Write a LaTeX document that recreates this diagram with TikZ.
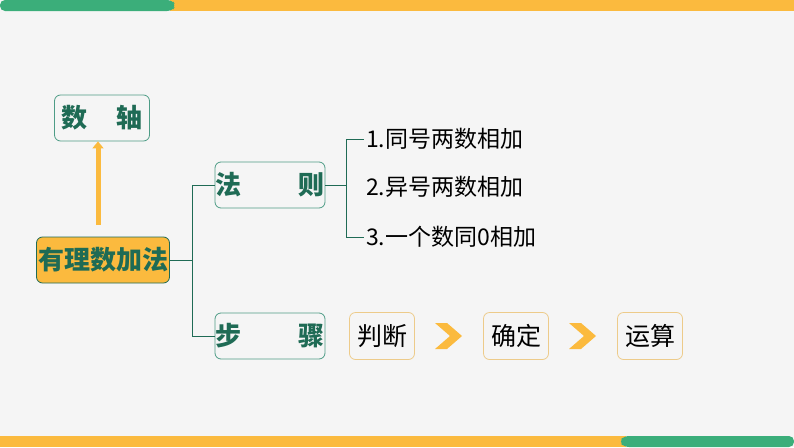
\documentclass[tikz,border=0pt]{standalone}
\usepackage{fontspec}
\usetikzlibrary{positioning,arrows.meta}
\newfontfamily\cjk{Noto Sans CJK SC}
\definecolor{bggray}{HTML}{F5F5F5}
\definecolor{barGreen}{HTML}{3BAE7A}
\definecolor{barYellow}{HTML}{FBBA3E}
\definecolor{darkGreen}{HTML}{1F6B55}
\definecolor{boxLine}{HTML}{4E9C86}
\definecolor{stepLine}{HTML}{EDCB8A}
\tikzset{
  titlebox/.style={draw=boxLine,rounded corners=6pt,line width=0.8pt,fill=bggray,inner sep=0pt,
    minimum width=95pt,minimum height=46pt,font=\cjk\bfseries\fontsize{26}{26}\selectfont,text=darkGreen},
  stepbox/.style={draw=stepLine,rounded corners=6pt,line width=0.8pt,fill=bggray,inner sep=0pt,
    minimum width=65pt,minimum height=47pt,font=\cjk\fontsize{25}{25}\selectfont},
  rule/.style={anchor=west,inner sep=2pt,font=\cjk\fontsize{23}{23}\selectfont},
  link/.style={draw=darkGreen,line width=1pt},
  chev/.style={fill=barYellow}
}
\begin{document}
\begin{tikzpicture}[x=1pt,y=-1pt]
  \fill[bggray] (0,0) rectangle (794,447);
  \useasboundingbox (0,0) rectangle (794,447);
  % bars
  \fill[barYellow] (170,0) rectangle (794,11);
  \fill[barGreen,rounded corners=5pt] (0,0) -- (172,0) -- (176,5.5) -- (172,11) -- (0,11) -- cycle;
  \fill[barYellow] (0,436) rectangle (626,447);
  \fill[barGreen,rounded corners=5pt] (794,436) -- (624,436) -- (619,441.5) -- (624,447) -- (794,447) -- cycle;

  \node[titlebox]          (axis)  at (102,118) {数\hspace{1.1em}轴};
  \node[titlebox,fill=barYellow,minimum width=133pt,draw=darkGreen] (add) at (103,260) {有理数加法};
  \node[titlebox,minimum width=110pt] (law)   at (270,185) {法\hspace{2.2em}则};
  \node[titlebox,minimum width=110pt] (steps) at (270,336) {步\hspace{2.2em}骤};

  \node[rule] (r1) at (364,139) {1.同号两数相加};
  \node[rule] (r2) at (364,187) {2.异号两数相加};
  \node[rule] (r3) at (364,237) {3.一个数同0相加};

  \node[stepbox] (judge) at (382,336) {判断};
  \node[stepbox] (fix)   at (516,336) {确定};
  \node[stepbox] (calc)  at (650,336) {运算};

  \draw[barYellow,line width=5pt,-{Triangle[length=7pt,width=11pt]}] (98,225) -- (axis.south -| 98,0);

  \coordinate (j1) at (192,260);
  \draw[link] (add.east) -- (j1) (j1 |- law.west) -- (j1 |- steps.west);
  \draw[link] (j1 |- law.west) -- (law.west);
  \draw[link] (j1 |- steps.west) -- (steps.west);
  \coordinate (j2) at (346,185);
  \draw[link] (law.east) -- (j2) (j2 |- r1.west) -- (j2 |- r3.west);
  \draw[link] (j2 |- r1.west) -- (r1.west);
  \draw[link] (j2 |- r3.west) -- (r3.west);

  \foreach \a/\b/\n in {judge/fix/c1,fix/calc/c2}{
    \path (\a.east) -- (\b.west) coordinate[midway] (\n);
    \fill[chev] ([xshift=-14pt,yshift=-13pt]\n) -- ([xshift=-2pt,yshift=-13pt]\n) -- ([xshift=13pt]\n)
      -- ([xshift=-2pt,yshift=13pt]\n) -- ([xshift=-14pt,yshift=13pt]\n) -- ([xshift=1pt]\n) -- cycle;
  }
\end{tikzpicture}
\end{document}
